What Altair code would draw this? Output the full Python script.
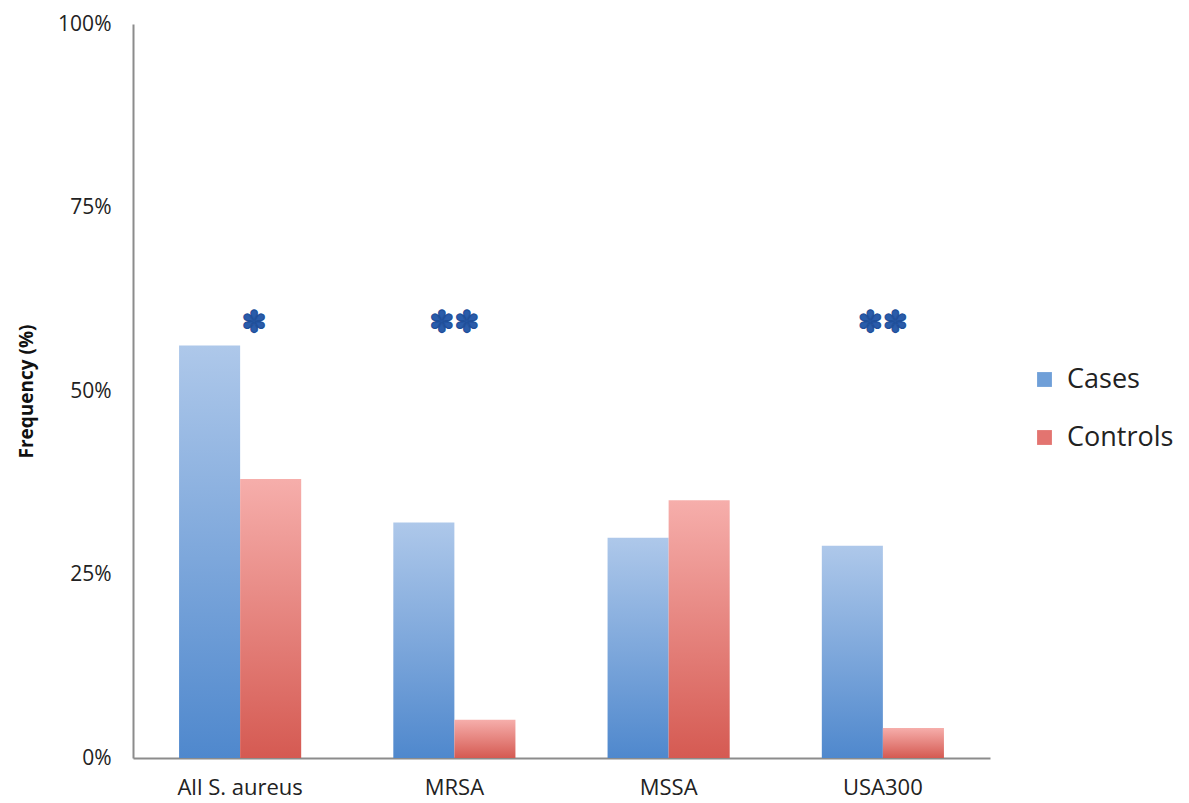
import altair as alt
import pandas as pd

categories = ["All S. aureus", "MRSA", "MSSA", "USA300"]
cases = [0.562, 0.321, 0.300, 0.289]
controls = [0.380, 0.052, 0.351, 0.041]
stars = ["✽", "✽✽", "", "✽✽"]
star_y = [0.592, 0.592, 0.592, 0.592]
groups = ["Cases", "Controls"]
y_ticks = [0, 0.25, 0.5, 0.75, 1.0]

rows = []
for c, a, b in zip(categories, cases, controls):
    rows.append({"cat": c, "group": "Cases", "value": a})
    rows.append({"cat": c, "group": "Controls", "value": b})
df = pd.DataFrame(rows)
star_df = pd.DataFrame({"cat": categories, "star": stars, "y": star_y})

FONT = "Open Sans"

x_enc = alt.X("cat:N", sort=categories, title=None,
              scale=alt.Scale(paddingInner=0.43, paddingOuter=0.215),
              axis=alt.Axis(labelAngle=0, labelFontSize=22, labelColor="#222",
                            labelPadding=19, ticks=False, domainColor="#8c8c8c",
                            domainWidth=2, labelFont=FONT))
y_enc = alt.Y("value:Q", title="Frequency (%)",
              scale=alt.Scale(domain=[0, 1], nice=False),
              axis=alt.Axis(format=".0%", values=y_ticks, ticks=False, grid=False,
                            labelFontSize=21, labelColor="#222", labelPadding=22,
                            domainColor="#8c8c8c", domainWidth=2,
                            titleFontSize=19, titleFontWeight="bold",
                            titleColor="#111", titlePadding=21, labelFont=FONT,
                            titleFont=FONT))
xo = alt.XOffset("group:N", scale=alt.Scale(domain=groups, paddingInner=0, paddingOuter=0))

blue = alt.Gradient(gradient="linear", x1=1, x2=1, y1=0, y2=1,
                    stops=[alt.GradientStop(color="#aec8ea", offset=0),
                           alt.GradientStop(color="#4f88cd", offset=1)])
red = alt.Gradient(gradient="linear", x1=1, x2=1, y1=0, y2=1,
                   stops=[alt.GradientStop(color="#f6aeab", offset=0),
                          alt.GradientStop(color="#d55a52", offset=1)])

base = alt.Chart(df)
cases_bars = base.transform_filter(alt.datum.group == "Cases").mark_bar(
    color=blue).encode(x=x_enc, y=y_enc, xOffset=xo)
controls_bars = base.transform_filter(alt.datum.group == "Controls").mark_bar(
    color=red).encode(x=x_enc, y=y_enc, xOffset=xo)

legend_layer = base.mark_point(opacity=0, filled=True).encode(
    x=x_enc, y=y_enc,
    color=alt.Color("group:N", scale=alt.Scale(domain=groups, range=["#6f9fd8", "#e37470"]),
                    legend=alt.Legend(title=None, orient="none", legendX=898, legendY=342,
                                      symbolType="square", symbolSize=220,
                                      symbolOpacity=1, labelFontSize=27,
                                      labelFont=FONT, labelColor="#222",
                                      rowPadding=30, labelOffset=9)))

star_single = alt.Chart(star_df).transform_filter(alt.datum.star == "✽").mark_text(
    fontSize=30, color="#2a5caa", stroke="#1f4f9a", strokeWidth=1.2,
    baseline="middle", font="DejaVu Sans", dx=14
).encode(x=alt.X("cat:N", sort=categories), y=alt.Y("y:Q"), text="star:N")
star_double = alt.Chart(star_df).transform_filter(alt.datum.star == "✽✽").mark_text(
    fontSize=30, color="#2a5caa", stroke="#1f4f9a", strokeWidth=1.2,
    baseline="middle", font="DejaVu Sans"
).encode(x=alt.X("cat:N", sort=categories), y=alt.Y("y:Q"), text="star:N")

chart = alt.layer(cases_bars, controls_bars, legend_layer, star_single, star_double).properties(
    width=857, height=734,
    autosize=alt.AutoSizeParams(type="none"),
    padding={"left": 125, "top": 16, "right": 190, "bottom": 45},
).configure_view(stroke=None)

chart.save("out.html", embed_options={"renderer": "svg", "actions": False})
